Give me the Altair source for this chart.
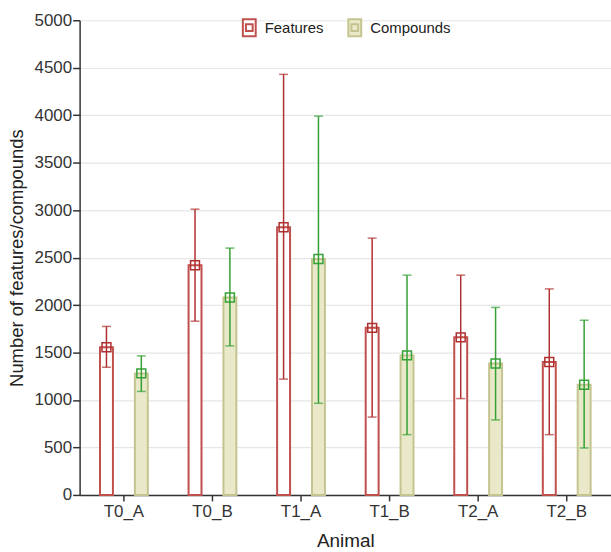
import altair as alt
import pandas as pd

animals = ["T0_A", "T0_B", "T1_A", "T1_B", "T2_A", "T2_B"]
series = ["Features", "Compounds"]
features_mean = [1555, 2420, 2820, 1760, 1660, 1400]
features_low = [1345, 1830, 1220, 820, 1015, 635]
features_high = [1775, 3010, 4430, 2705, 2315, 2170]
compounds_mean = [1280, 2080, 2485, 1470, 1385, 1160]
compounds_low = [1090, 1570, 965, 635, 790, 495]
compounds_high = [1465, 2600, 3990, 2315, 1975, 1840]
y_ticks = [0, 500, 1000, 1500, 2000, 2500, 3000, 3500, 4000, 4500, 5000]

rows = []
for i, a in enumerate(animals):
    rows.append({"Animal": a, "series": "Features", "mean": features_mean[i],
                 "lo": features_low[i], "hi": features_high[i]})
    rows.append({"Animal": a, "series": "Compounds", "mean": compounds_mean[i],
                 "lo": compounds_low[i], "hi": compounds_high[i]})
df = pd.DataFrame(rows)

FONT = "Liberation Sans"
x_enc = alt.X("Animal:N", sort=animals, title="Animal",
              scale=alt.Scale(paddingInner=0, paddingOuter=0),
              axis=alt.Axis(labelAngle=0))
xo_enc = alt.XOffset("series:N", sort=series,
                     scale=alt.Scale(paddingInner=0, paddingOuter=0.27))
y_scale = alt.Scale(domain=[0, 5000], nice=False)

legend_symbol = "M-0.76,-1H0.76V1H-0.76Z M-0.4,-0.4H0.4V0.4H-0.4Z"
legend_kw = dict(title=None, orient="none", direction="horizontal",
                 legendX=161, legendY=-2,
                 symbolType=legend_symbol, symbolSize=289,
                 symbolStrokeWidth=2, labelOffset=6,
                 columnPadding=20, padding=0,
                 labelFontSize=15, labelFont=FONT, labelColor="#222222")

bars = alt.Chart(df).mark_bar(size=13, strokeWidth=2).encode(
    x=x_enc,
    xOffset=xo_enc,
    y=alt.Y("mean:Q", scale=y_scale, title="Number of features/compounds",
            axis=alt.Axis(values=y_ticks, format="d")),
    fill=alt.Fill("series:N", sort=series,
                  scale=alt.Scale(domain=series, range=["#ffffff", "#e9e9c9"]),
                  legend=alt.Legend(**legend_kw)),
    stroke=alt.Stroke("series:N", sort=series,
                      scale=alt.Scale(domain=series, range=["#c0504d", "#c4c490"]),
                      legend=alt.Legend(**legend_kw)),
)

err_color = alt.Color("series:N", sort=series,
                      scale=alt.Scale(domain=series, range=["#b03030", "#35a035"]),
                      legend=None)

rules = alt.Chart(df).mark_rule(strokeWidth=1.5).encode(
    x=x_enc, xOffset=xo_enc,
    y=alt.Y("lo:Q", scale=y_scale), y2="hi:Q",
    color=err_color,
)
caps_hi = alt.Chart(df).mark_tick(size=9, thickness=1.5).encode(
    x=x_enc, xOffset=xo_enc, y=alt.Y("hi:Q", scale=y_scale), color=err_color,
)
caps_lo = alt.Chart(df).mark_tick(size=9, thickness=1.5).encode(
    x=x_enc, xOffset=xo_enc, y=alt.Y("lo:Q", scale=y_scale), color=err_color,
)
points = alt.Chart(df).mark_point(shape="square", size=80, filled=False,
                                  strokeWidth=1.5, opacity=1).encode(
    x=x_enc, xOffset=xo_enc, y=alt.Y("mean:Q", scale=y_scale), color=err_color,
)

chart = alt.layer(bars, rules, caps_hi, caps_lo, points).properties(
    width=534, height=477,
    autosize=alt.AutoSizeParams(type="none"),
    padding={"left": 80, "top": 19, "right": 0, "bottom": 56},
).configure_view(stroke=None).configure_axis(
    labelFont=FONT, titleFont=FONT, labelFontSize=17, titleFontSize=18.5,
    labelColor="#333333", titleColor="#222222", titleFontWeight="normal",
    domainColor="#333333", domainWidth=1.5, tickColor="#333333", tickWidth=1.5,
    tickSize=7, gridColor="#e6e6e6", gridWidth=1.2,
).configure_axisX(grid=False, labelPadding=3, titlePadding=12, tickSize=6,
                  titleFontSize=19).configure_axisY(
    labelPadding=1, titlePadding=8)

chart.save("out.html", embed_options={"renderer": "svg", "actions": False})
